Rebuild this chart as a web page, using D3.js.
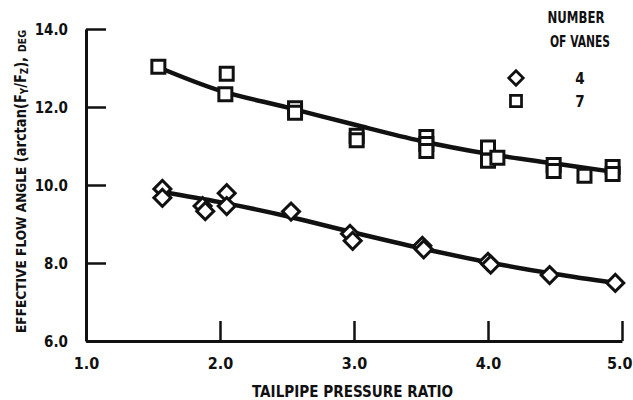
<!DOCTYPE html>
<html><head><meta charset="utf-8">
<script src="https://cdn.jsdelivr.net/npm/d3@7"></script>
<style>
html,body{margin:0;padding:0;background:#fff;}
svg text{font-family:"Liberation Sans Narrow","Arial Narrow","DejaVu Sans Condensed",sans-serif;font-weight:bold;fill:#111;}
</style></head>
<body>
<svg id="c" width="633" height="400"></svg>
<script>
// ---- data ----
const xTickLabels = ["1.0", "2.0", "3.0", "4.0", "5.0"];
const yTickLabels = ["6.0", "8.0", "10.0", "12.0", "14.0"];

// 4 vanes (diamonds)
const vanes4X = [1.57, 1.57, 1.87, 1.89, 2.05, 2.05, 2.53, 2.97, 2.99, 3.51, 3.52, 4.00, 4.02, 4.46, 4.95];
const vanes4Y = [9.90, 9.67, 9.46, 9.33, 9.79, 9.46, 9.32, 8.75, 8.57, 8.44, 8.35, 8.03, 7.96, 7.69, 7.49];
// 7 vanes (squares)
const vanes7X = [1.54, 2.05, 2.04, 2.56, 2.56, 3.02, 3.02, 3.54, 3.54, 3.54, 4.00, 4.00, 4.07, 4.49, 4.49, 4.72, 4.93, 4.93];
const vanes7Y = [13.03, 12.85, 12.33, 11.97, 11.85, 11.26, 11.15, 11.23, 11.05, 10.87, 10.96, 10.62, 10.70, 10.51, 10.36, 10.24, 10.46, 10.28];

// faired curves through each set
const fit4X = [1.57, 2.0, 2.5, 3.0, 3.5, 4.0, 4.5, 4.95];
const fit4Y = [9.82, 9.56, 9.20, 8.78, 8.38, 8.02, 7.72, 7.49];
const fit7X = [1.54, 2.0, 2.5, 3.0, 3.5, 4.0, 4.5, 4.95];
const fit7Y = [13.02, 12.42, 11.99, 11.55, 11.13, 10.80, 10.55, 10.33];

const legendLabels = ["4", "7"];
const legendTitle = ["NUMBER", "OF VANES"];

// ---- drawing ----
const svg = d3.select("#c");
const x = d3.scaleLinear().domain([1, 5]).range([86, 622]);
const y = d3.scaleLinear().domain([6, 14]).range([341, 29]);
const ink = "#111";

// axes
const xAxis = d3.axisBottom(x).tickValues(xTickLabels.map(Number)).tickFormat((d, i) => xTickLabels[i]).tickSize(-20).tickSizeOuter(0);
const yAxis = d3.axisLeft(y).tickValues(yTickLabels.map(Number)).tickFormat((d, i) => yTickLabels[i]).tickSize(-20).tickSizeOuter(0);

const gx = svg.append("g").attr("transform", `translate(0,${y(6)})`).call(xAxis);
const gy = svg.append("g").attr("transform", `translate(${x(1)},0)`).call(yAxis);
[gx, gy].forEach(g => {
  g.select(".domain").attr("stroke", ink).attr("stroke-width", 3);
  g.selectAll(".tick line").attr("stroke", ink).attr("stroke-width", 2.5);
  g.selectAll(".tick text").attr("fill", ink).style("font-family", null);
});
gx.selectAll(".tick text").attr("y", 28).attr("dy", 0).attr("font-size", 16)
  .attr("text-anchor", (d, i) => i === xTickLabels.length - 1 ? "end" : "middle")
  .attr("x", (d, i) => i === xTickLabels.length - 1 ? 10 : 0);
gy.selectAll(".tick text").attr("x", -18).attr("dy", "0.36em").attr("font-size", 15);

// titles
svg.append("text").attr("x", 352.5).attr("y", 397).attr("text-anchor", "middle")
  .attr("font-size", 16).attr("textLength", 201).attr("lengthAdjust", "spacingAndGlyphs")
  .text("TAILPIPE PRESSURE RATIO");

const yt = svg.append("text").attr("transform", "translate(26,181.5) rotate(-90)")
  .attr("text-anchor", "middle").attr("textLength", 303).attr("lengthAdjust", "spacingAndGlyphs");
yt.append("tspan").attr("font-size", 14).text("EFFECTIVE FLOW ANGLE ");
yt.append("tspan").attr("font-size", 15).text("(arctan(F");
yt.append("tspan").attr("font-size", 10).attr("dy", 2).text("Y");
yt.append("tspan").attr("font-size", 15).attr("dy", -2).text("/F");
yt.append("tspan").attr("font-size", 10).attr("dy", 2).text("Z");
yt.append("tspan").attr("font-size", 15).attr("dy", -2).text("), ");
yt.append("tspan").attr("font-size", 11).text("DEG");

// curves
const line = d3.line().x(d => x(d[0])).y(d => y(d[1])).curve(d3.curveCatmullRom);
svg.append("path").datum(d3.zip(fit7X, fit7Y)).attr("d", line)
  .attr("fill", "none").attr("stroke", ink).attr("stroke-width", 4.5).attr("stroke-linecap", "round");
svg.append("path").datum(d3.zip(fit4X, fit4Y)).attr("d", line)
  .attr("fill", "none").attr("stroke", ink).attr("stroke-width", 4.5).attr("stroke-linecap", "round");

// markers
const sq = d3.symbol().type(d3.symbolSquare).size(169)();
const dm = d3.symbol().type(d3.symbolSquare).size(144)();
svg.append("g").selectAll("path").data(d3.zip(vanes7X, vanes7Y)).join("path")
  .attr("d", sq).attr("transform", d => `translate(${x(d[0])},${y(d[1])})`)
  .attr("fill", "#fff").attr("stroke", ink).attr("stroke-width", 3);
svg.append("g").selectAll("path").data(d3.zip(vanes4X, vanes4Y)).join("path")
  .attr("d", dm).attr("transform", d => `translate(${x(d[0])},${y(d[1])}) rotate(45)`)
  .attr("fill", "#fff").attr("stroke", ink).attr("stroke-width", 3);

// legend
svg.append("text").attr("x", 576).attr("y", 23).attr("text-anchor", "middle").attr("font-size", 16)
  .attr("textLength", 57).attr("lengthAdjust", "spacingAndGlyphs").text(legendTitle[0]);
svg.append("text").attr("x", 580).attr("y", 47).attr("text-anchor", "middle").attr("font-size", 16)
  .attr("textLength", 60).attr("lengthAdjust", "spacingAndGlyphs").text(legendTitle[1]);
const leg = [{s: dm, r: 45, cy: 78, t: legendLabels[0]}, {s: sq, r: 0, cy: 101, t: legendLabels[1]}];
leg.forEach(l => {
  svg.append("path").attr("d", l.s).attr("transform", `translate(516,${l.cy}) rotate(${l.r}) scale(0.85)`)
    .attr("fill", "#fff").attr("stroke", ink).attr("stroke-width", 3.2);
  svg.append("text").attr("x", 580).attr("y", l.cy + 6).attr("text-anchor", "middle").attr("font-size", 15).text(l.t);
});
</script>
</body></html>
